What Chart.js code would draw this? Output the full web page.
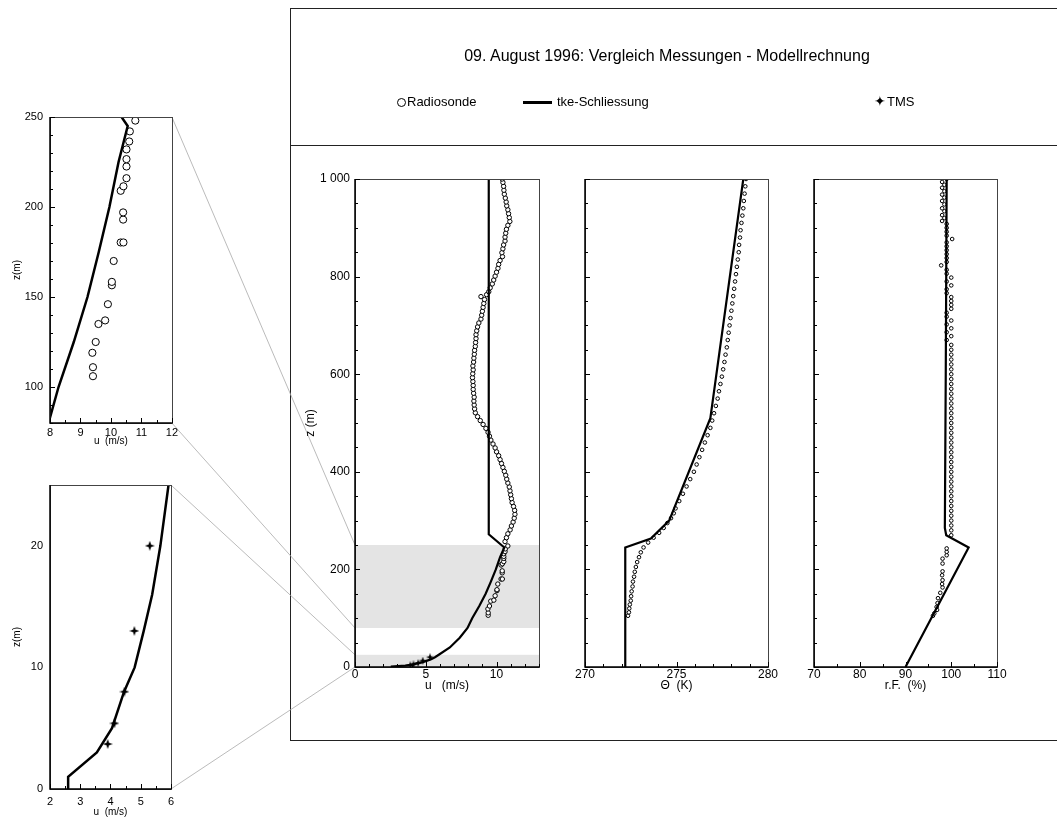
<!DOCTYPE html>
<html>
<head>
<meta charset="utf-8">
<script src="https://cdn.jsdelivr.net/npm/chart.js@4.4.0/dist/chart.umd.min.js"></script>
<style>
  body { margin:0; background:#fff; width:1057px; height:819px; overflow:hidden; position:relative;
         font-family:"Liberation Sans", Arial, sans-serif; color:#000; }
  .box { position:absolute; left:290px; top:8px; width:790px; height:733px; border:1px solid #222; box-sizing:border-box; }
  .sep { position:absolute; left:290px; top:145px; width:790px; border-top:1px solid #222; }
  canvas.c { position:absolute; }
  #links { position:absolute; left:0; top:0; }
  .t { position:absolute; white-space:nowrap; font-family:"Liberation Sans Narrow","Liberation Sans",Arial,sans-serif; }
</style>
</head>
<body>
<div class="box"></div>
<div class="sep"></div>
<canvas id="links" width="1057" height="819"></canvas>
<div class="t" id="title" style="left:667px; top:47px; font-size:16px; transform:translateX(-50%);">09. August 1996: Vergleich Messungen - Modellrechnung</div>
<div class="t" style="left:397px; top:98px; width:7px; height:7px; border:1px solid #000; border-radius:50%;"></div>
<div class="t" style="left:407px; top:94px; font-size:13px;">Radiosonde</div>
<div class="t" style="left:523px; top:101px; width:29px; height:3px; background:#000;"></div>
<div class="t" style="left:557px; top:94px; font-size:13px;">tke-Schliessung</div>
<div class="t" style="left:874px; top:93px; font-size:14px; font-family:'DejaVu Sans';">&#10022;</div>
<div class="t" style="left:887px; top:94px; font-size:13px;">TMS</div>

<canvas class="c" id="inset1"></canvas>
<canvas class="c" id="inset2"></canvas>
<canvas class="c" id="mainU"></canvas>
<canvas class="c" id="mainTh"></canvas>
<canvas class="c" id="mainRH"></canvas>

<script>
// ---- data: wind speed u (m/s) ----
const sondeZu = [106, 111, 119, 125, 135, 137, 146, 156.5, 158.4, 170, 180.3, 180.3, 193, 197, 209, 211.5, 216, 222.5, 226.6, 232, 236.4, 242, 248,
  257, 265, 273, 281, 289, 297, 305, 313, 321, 329, 337, 345, 353, 361, 369, 377, 385, 393, 401, 409, 417, 425, 433, 441, 449, 457,
  465, 473, 481, 489, 497, 505, 513, 521, 529, 537, 545, 553, 561, 569, 577, 585, 593, 601, 609, 617, 625, 633, 641, 649, 657,
  665, 673, 681, 689, 697, 705, 713, 721, 729, 737, 745, 753, 759, 763, 769, 777, 785, 793, 801, 809, 817, 825, 833, 841, 849,
  857, 865, 873, 881, 889, 897, 905, 913, 921, 929, 937, 945, 953, 961, 969, 977, 985, 993, 1000];
const sondeU = [9.41, 9.41, 9.39, 9.50, 9.59, 9.81, 9.90, 10.03, 10.03, 10.09, 10.32, 10.41, 10.40, 10.40, 10.32, 10.41, 10.51, 10.51, 10.51, 10.51, 10.60, 10.62, 10.80,
  10.6, 10.7, 10.8, 10.96, 11.05, 11.17, 11.25, 11.3, 11.28, 11.2, 11.1, 11.05, 11.0, 10.95, 10.9, 10.8, 10.72, 10.65, 10.55, 10.45, 10.35, 10.25, 10.15, 10.0, 9.9, 9.75,
  9.6, 9.5, 9.4, 9.25, 9.05, 8.85, 8.66, 8.5, 8.45, 8.42, 8.4, 8.42, 8.38, 8.35, 8.35, 8.33, 8.3, 8.32, 8.35, 8.33, 8.38, 8.4, 8.43, 8.45, 8.5,
  8.52, 8.55, 8.55, 8.6, 8.66, 8.75, 8.9, 8.95, 9.0, 9.05, 9.1, 9.15, 8.9, 9.3, 9.45, 9.55, 9.7, 9.8, 9.9, 10.0, 10.1, 10.15, 10.25, 10.42, 10.38,
  10.45, 10.5, 10.6, 10.6, 10.65, 10.7, 10.8, 10.94, 10.9, 10.85, 10.8, 10.72, 10.68, 10.62, 10.55, 10.52, 10.5, 10.45, 10.4];
const modelZu = [0, 1, 3, 5, 8, 10, 13, 16, 20, 25, 40, 60, 80, 100, 125, 150, 175, 200, 225, 245, 272, 1000];
const modelU = [2.6, 2.6, 3.55, 4.05, 4.45, 4.8, 5.1, 5.38, 5.65, 5.92, 6.7, 7.4, 7.95, 8.28, 8.78, 9.23, 9.6, 9.95, 10.25, 10.55, 9.45, 9.45];
const tmsZ = [3.7, 5.4, 8.0, 13.0, 20.0];
const tmsU = [3.91, 4.13, 4.46, 4.79, 5.30];

// ---- data: potential temperature (K) ----
const sondeZth = [105, 112, 120, 128, 136, 145, 155, 165, 175, 185, 195, 205, 215, 225, 235, 245, 255, 265, 275, 285, 295, 305, 315,
  325, 340, 355, 370, 385, 400, 415, 430, 445, 460, 475, 490, 505, 520, 535, 550, 565, 580, 595, 610, 625, 640, 655, 670, 685,
  700, 715, 730, 745, 760, 775, 790, 805, 820, 835, 850, 865, 880, 895, 910, 925, 940, 955, 970, 985, 1000];
const sondeTheta = [272.35, 272.4, 272.42, 272.45, 272.5, 272.52, 272.55, 272.6, 272.62, 272.68, 272.72, 272.78, 272.85, 272.95, 273.05, 273.2, 273.45, 273.75, 274.05, 274.3, 274.5, 274.7, 274.85,
  274.95, 275.15, 275.35, 275.55, 275.75, 275.95, 276.1, 276.25, 276.4, 276.55, 276.7, 276.85, 276.95, 277.05, 277.15, 277.25, 277.32, 277.4, 277.48, 277.55, 277.62, 277.68, 277.75, 277.8, 277.85,
  277.9, 277.95, 278.0, 278.05, 278.1, 278.15, 278.2, 278.25, 278.3, 278.35, 278.4, 278.42, 278.47, 278.5, 278.55, 278.6, 278.65, 278.68, 278.72, 278.76, 278.8];
const modelZth = [0, 245, 263, 300, 510, 1000];
const modelTheta = [272.2, 272.2, 273.6, 274.6, 276.85, 278.65];

// ---- data: relative humidity (%) ----
const sondeZrh = [105, 110, 117, 123, 131, 141, 152, 163, 170, 178, 188, 196, 212, 222, 229, 236, 243,
  270, 280, 290, 300, 310, 320, 330, 340, 350, 360, 370, 380, 390, 400, 410, 420, 430, 440, 450, 460, 470, 480, 490, 500,
  510, 520, 530, 540, 550, 560, 570, 580, 590, 600, 610, 620, 630, 640, 650, 660,
  670, 678, 686, 694, 702, 710, 718, 726, 734, 742, 750, 758, 766, 774, 782, 790, 798, 806, 814, 823, 830, 838, 846, 854, 862, 870, 877,
  884, 892, 900, 908, 914, 920, 926, 934, 940, 948, 955, 962, 968, 975, 982, 988, 994, 1000];
const sondeRH = [96.0, 96.3, 96.9, 96.8, 97.0, 97.1, 97.6, 98.1, 98.0, 98.1, 98.0, 98.1, 98.1, 98.1, 99.0, 99.0, 99.0,
  100.0, 100.0, 100.0, 100.0, 100.0, 100.0, 100.0, 100.0, 100.0, 100.0, 100.0, 100.0, 100.0, 100.0, 100.0, 100.0, 100.0, 100.0, 100.0, 100.0, 100.0, 100.0, 100.0, 100.0,
  100.0, 100.0, 100.0, 100.0, 100.0, 100.0, 100.0, 100.0, 100.0, 100.0, 100.0, 100.0, 100.0, 100.0, 100.0, 100.0,
  99.0, 100.0, 99.0, 100.0, 99.0, 100.0, 99.0, 99.0, 100.0, 100.0, 100.0, 100.0, 99.0, 99.0, 100.0, 99.0, 100.0, 99.0, 99.0, 97.8, 99.0, 99.0, 99.0, 99.0, 99.0, 99.0, 100.2,
  99.0, 99.0, 99.0, 99.0, 98.0, 98.5, 98.0, 98.5, 98.0, 98.5, 98.0, 98.5, 98.0, 98.5, 98.0, 98.5, 98.0, 99.0];
const modelZrh = [0, 245, 270, 285, 600, 1000];
const modelRH = [90.0, 103.8, 98.9, 98.6, 98.8, 99.0];

// ---- helpers ----
function pts(xs, ys) { return xs.map((v, i) => ({x: v, y: ys[i]})); }

function starImg(size) {
  const c = document.createElement('canvas');
  c.width = c.height = size;
  const g = c.getContext('2d'), r = size / 2, k = size * 0.13;
  g.beginPath();
  g.moveTo(r, 0); g.lineTo(r + k, r - k); g.lineTo(size, r); g.lineTo(r + k, r + k);
  g.lineTo(r, size); g.lineTo(r - k, r + k); g.lineTo(0, r); g.lineTo(r - k, r - k);
  g.closePath(); g.fillStyle = '#000'; g.fill();
  return c;
}

function sonde(xs, zs, r) {
  return {data: pts(xs, zs), showLine: false, pointStyle: 'circle', pointRadius: r, borderWidth: 1,
          borderColor: '#000', backgroundColor: '#fff', order: 2};
}
function model(xs, zs, w) {
  return {data: pts(xs, zs), showLine: true, pointRadius: 0, borderWidth: w, borderColor: '#000',
          tension: 0, order: 1};
}
function tms(size) {
  return {data: pts(tmsU, tmsZ), showLine: false, pointStyle: starImg(size), pointRadius: size / 2, order: 0};
}

// frame, inner tick marks and shaded bands
const framePlugin = {
  id: 'frame',
  beforeDatasetsDraw(chart, args, o) {
    const {ctx, chartArea: a, scales: {y}} = chart;
    ctx.save();
    ctx.fillStyle = '#e4e4e4';
    (o.bands || []).forEach(b => {
      const y1 = y.getPixelForValue(b[1]), y0 = y.getPixelForValue(b[0]);
      ctx.fillRect(a.left, y1, a.right - a.left, y0 - y1);
    });
    ctx.restore();
  },
  afterDatasetsDraw(chart, args, o) {
    const {ctx, chartArea: a, scales: {x, y}} = chart;
    ctx.save();
    ctx.strokeStyle = '#444'; ctx.lineWidth = 1;
    ctx.strokeRect(Math.round(a.left) + 0.5, Math.round(a.top) + 0.5, Math.round(a.right - a.left), Math.round(a.bottom - a.top));
    ctx.strokeStyle = '#000'; ctx.lineWidth = 1.5;
    ctx.beginPath();
    ctx.moveTo(a.left, a.top); ctx.lineTo(a.left, a.bottom); ctx.lineTo(a.right, a.bottom);
    ctx.stroke();
    ctx.lineWidth = 1;
    ctx.beginPath();
    for (let v = x.min; v <= x.max + 1e-9; v += o.xMinor) {
      const px = Math.round(x.getPixelForValue(v)) + 0.5;
      const major = Math.abs(v / o.xMajor - Math.round(v / o.xMajor)) < 1e-6;
      ctx.moveTo(px, a.bottom); ctx.lineTo(px, a.bottom - (major ? 5 : 3));
    }
    if (o.yMinor) {
      for (let v = y.min; v <= y.max + 1e-9; v += o.yMinor) {
        const py = Math.round(y.getPixelForValue(v)) + 0.5;
        const major = Math.abs(v / o.yMajor - Math.round(v / o.yMajor)) < 1e-6;
        ctx.moveTo(a.left, py); ctx.lineTo(a.left + (major ? 5 : 3), py);
      }
    }
    ctx.stroke();
    ctx.restore();
  }
};

function panel(id, g, datasets, xs, ys, frame) {
  const cv = document.getElementById(id);
  cv.style.left = g.left + 'px'; cv.style.top = g.top + 'px';
  cv.width = g.w; cv.height = g.h;
  return new Chart(cv, {
    type: 'scatter',
    data: {datasets: datasets},
    options: {
      responsive: false, animation: false, events: [],
      layout: {padding: {top: g.pt, right: g.pr, left: 0, bottom: 0}},
      plugins: {legend: {display: false}, tooltip: {enabled: false}, frame: frame},
      scales: {
        x: {
          type: 'linear', min: xs.min, max: xs.max,
          grid: {display: false, drawTicks: false}, border: {display: false},
          ticks: {stepSize: xs.step, includeBounds: false, padding: xs.pad, color: '#000',
                  font: {size: g.fs, family: 'Liberation Sans'}, maxRotation: 0, autoSkip: false},
          title: {display: true, text: xs.title, color: '#000', font: {size: g.ts, family: 'Liberation Sans'},
                  padding: {top: 0, bottom: xs.tpad}},
          afterFit: s => { s.height = g.xh; }
        },
        y: {
          type: 'linear', min: ys.min, max: ys.max,
          grid: {display: false, drawTicks: false}, border: {display: false},
          ticks: {display: ys.show, stepSize: ys.step, includeBounds: false, padding: ys.pad, color: '#000',
                  font: {size: g.fs, family: 'Liberation Sans'},
                  callback: v => v === 1000 ? '1 000' : v},
          title: {display: !!ys.title, text: ys.title, color: '#000', font: {size: g.ts, family: 'Liberation Sans'},
                  padding: {top: ys.tpad, bottom: 0}},
          afterFit: s => { s.width = g.yw; }
        }
      }
    },
    plugins: [framePlugin]
  });
}

const inset1 = panel('inset1', {left: 0, top: 101, w: 181, h: 350, pt: 16, pr: 8, yw: 50, xh: 28, fs: 11, ts: 10},
  [model(modelU, modelZu, 2.5), sonde(sondeU, sondeZu, 3.6)],
  {min: 8, max: 12, step: 1, pad: 3, title: 'u  (m/s)', tpad: 4},
  {min: 80, max: 250, step: 50, pad: 7, show: true, title: 'z(m)', tpad: 11},
  {xMinor: 0.5, xMajor: 1, yMinor: 10, yMajor: 50});

const inset2 = panel('inset2', {left: 0, top: 469, w: 180, h: 350, pt: 16, pr: 8, yw: 50, xh: 30, fs: 11, ts: 10},
  [tms(10), model(modelU, modelZu, 2.5)],
  {min: 2, max: 6, step: 1, pad: 6, title: 'u  (m/s)', tpad: 1},
  {min: 0, max: 25, step: 10, pad: 7, show: true, title: 'z(m)', tpad: 11},
  {xMinor: 0.5, xMajor: 1, yMinor: 0, yMajor: 10});

const mainU = panel('mainU', {left: 295, top: 163, w: 258, h: 534, pt: 16, pr: 14, yw: 60, xh: 30, fs: 12, ts: 12},
  [tms(8), model(modelU, modelZu, 2.2), sonde(sondeU, sondeZu, 2.2)],
  {min: 0, max: 13, step: 5, pad: 0, title: 'u   (m/s)', tpad: 4},
  {min: 0, max: 1000, step: 200, pad: 5, show: true, title: 'z (m)', tpad: 8},
  {xMinor: 1, xMajor: 5, yMinor: 50, yMajor: 200, bands: [[80, 250], [0, 25]]});

const mainTh = panel('mainTh', {left: 570, top: 163, w: 212, h: 534, pt: 16, pr: 14, yw: 15, xh: 30, fs: 12, ts: 12},
  [model(modelTheta, modelZth, 2.2), sonde(sondeTheta, sondeZth, 1.8)],
  {min: 270, max: 280, step: 5, pad: 0, title: '\u0398  (K)', tpad: 4},
  {min: 0, max: 1000, step: 200, pad: 5, show: false},
  {xMinor: 1, xMajor: 5, yMinor: 50, yMajor: 200});

const mainRH = panel('mainRH', {left: 799, top: 163, w: 212, h: 534, pt: 16, pr: 14, yw: 15, xh: 30, fs: 12, ts: 12},
  [model(modelRH, modelZrh, 2.2), sonde(sondeRH, sondeZrh, 1.8)],
  {min: 70, max: 110, step: 10, pad: 0, title: 'r.F.  (%)', tpad: 4},
  {min: 0, max: 1000, step: 200, pad: 5, show: false},
  {xMinor: 5, xMajor: 10, yMinor: 50, yMajor: 200});

// zoom connector lines from the insets to the main u panel
(function () {
  const g = document.getElementById('links').getContext('2d');
  const off = c => ({x: parseFloat(c.canvas.style.left), y: parseFloat(c.canvas.style.top)});
  const m = off(mainU), a = mainU.chartArea, yS = mainU.scales.y;
  function link(ch, zTop, zBot) {
    const o = off(ch), ca = ch.chartArea;
    g.beginPath();
    g.moveTo(o.x + ca.right, o.y + ca.top); g.lineTo(m.x + a.left, m.y + yS.getPixelForValue(zTop));
    g.moveTo(o.x + ca.right, o.y + ca.bottom); g.lineTo(m.x + a.left, m.y + yS.getPixelForValue(zBot));
    g.stroke();
  }
  g.strokeStyle = '#aaa'; g.lineWidth = 0.8;
  link(inset1, 250, 80);
  link(inset2, 25, 0);
})();
</script>
</body>
</html>
